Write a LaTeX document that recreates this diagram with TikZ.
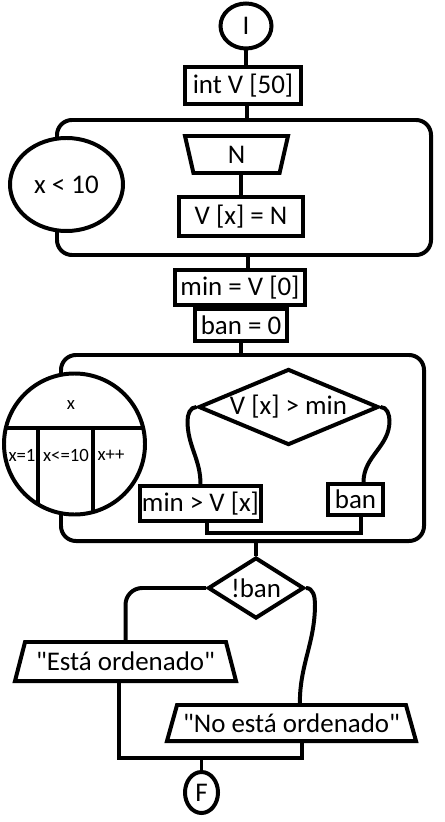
\documentclass[tikz,border=0pt]{standalone}
\usepackage{fontspec}
\setmainfont{Carlito}
\usetikzlibrary{shapes}
\usetikzlibrary{shapes.geometric}

\tikzset{
	box/.style={shape=rectangle, draw, inner sep=0pt},
	term/.style={shape=ellipse, draw, fill=white, inner sep=0pt},
	loopbox/.style={shape=rectangle, draw, rounded corners=0.45cm},
	cond/.style={shape=diamond, draw, inner sep=0pt},
	io/.style={shape=trapezium, draw, trapezium stretches body, inner sep=0pt},
	small/.style={font=\fontsize{16}{19}\selectfont, inner sep=0pt}
}

\begin{document}
\begin{tikzpicture}[x=0.03cm, y=-0.03cm, line width=3.4pt, font=\fontsize{23}{27}\selectfont]
		\useasboundingbox (0,0) rectangle (444,822);
		
		\node (start) at (246,26) [term, minimum width=1.53cm, minimum height=1.35cm] {I};
		\node (decl) at (243,85.5) [box, minimum width=3.48cm, minimum height=1.11cm] {int V [50]};
		
		\node (loopA) at (244,187.5) [loopbox, minimum width=11.22cm, minimum height=4.05cm] {};
		\node (condA) at (66.5,184.5) [term, minimum width=3.39cm, minimum height=2.79cm] {x < 10};
		\node (readN) at (236.5,154.5) [io, shape border rotate=180, trapezium angle=64, minimum width=3.09cm, minimum height=1.11cm] {N};
		\node (assignV) at (241,216.5) [box, minimum width=3.72cm, minimum height=1.17cm] {V [x] = N};
		
		\node (initMin) at (240,287.5) [box, minimum width=3.9cm, minimum height=1.05cm] {min = V [0]};
		\node (initBan) at (241,325) [box, minimum width=2.76cm, minimum height=0.96cm] {ban = 0};
		
		\node (loopB) at (242.5,448) [loopbox, minimum width=10.89cm, minimum height=5.58cm] {};
		\node (forB) at (74.5,444) [shape=circle, draw, fill=white, minimum size=4.23cm, inner sep=0pt,
			path picture={
				\draw ([xshift=-2.4cm,yshift=0.48cm]path picture bounding box.center) -- ++(160,0);
				\draw ([xshift=-1.095cm,yshift=0.48cm]path picture bounding box.center) -- ++(0,100);
				\draw ([xshift=0.555cm,yshift=0.48cm]path picture bounding box.center) -- ++(0,100);
			}] {};
		\node (forVar) at (71,405) [small] {x};
		\node (forInit) at (22,455) [small] {x=1};
		\node (forCond) at (66,455) [small] {x<=10};
		\node (forInc) at (111,455) [small] {x++};
		\node (cmpV) at (288.5,407) [cond, shape aspect=2.37, minimum width=5.4cm, minimum height=2.28cm] {V [x] > min};
		\node (setMin) at (200.5,503.5) [box, minimum width=3.63cm, minimum height=1.05cm] {min > V [x]};
		\node (setBan) at (355.5,499.5) [box, minimum width=1.65cm, minimum height=0.93cm] {ban};
		
		\node (noBan) at (256,588) [cond, shape aspect=1.6, minimum width=2.88cm, minimum height=1.83cm] {!ban};
		\node (msgYes) at (125.5,661.5) [io, trapezium angle=62, minimum width=6.63cm, minimum height=1.17cm] {\textquotedbl Está ordenado\textquotedbl};
		\node (msgNo) at (291.5,723) [io, trapezium angle=62, minimum width=7.47cm, minimum height=1.08cm] {\textquotedbl No está ordenado\textquotedbl};
		\node (endF) at (201.5,792.5) [term, minimum width=0.99cm, minimum height=1.23cm] {F};
		\coordinate (mergeF) at (201.5,758);
		
		\draw (start) -- (start |- decl.north);
		\draw ([xshift=0.12cm]decl.south) -- ([xshift=0.12cm]decl.south |- loopA.north);
		\draw (assignV.north |- readN.south) -- (assignV.north);
		\draw ([xshift=0.12cm]loopA.south) -- ([xshift=0.12cm]loopA.south |- initMin.north);
		\draw (initBan.south) -- (initBan.south |- loopB.north);
		\draw (cmpV.west) to[out=180, in=90] ++(-9,14) to[out=-90, in=90] (setMin.north);
		\draw (cmpV.east) to[out=0, in=90] ++(9,14) to[out=-90, in=90] ([xshift=0.24cm]setBan.north);
		\draw ([xshift=0.2cm]setMin.south) -- ++(0,10) -| ([xshift=0.17cm]setBan.south);
		\draw (noBan.north |- loopB.south) -- (noBan.north);
		\draw[rounded corners=0.5cm] (noBan.west) -| (msgYes.north);
		\draw (noBan.east) to[out=0, in=90] ++(9,16) to[out=-90, in=90] ([xshift=0.25cm]msgNo.north);
		\draw ([xshift=-0.2cm]msgYes.south) |- (mergeF) -| ([xshift=0.31cm]msgNo.south);
		\draw (mergeF) -- (endF);
	\end{tikzpicture}
\end{document}
